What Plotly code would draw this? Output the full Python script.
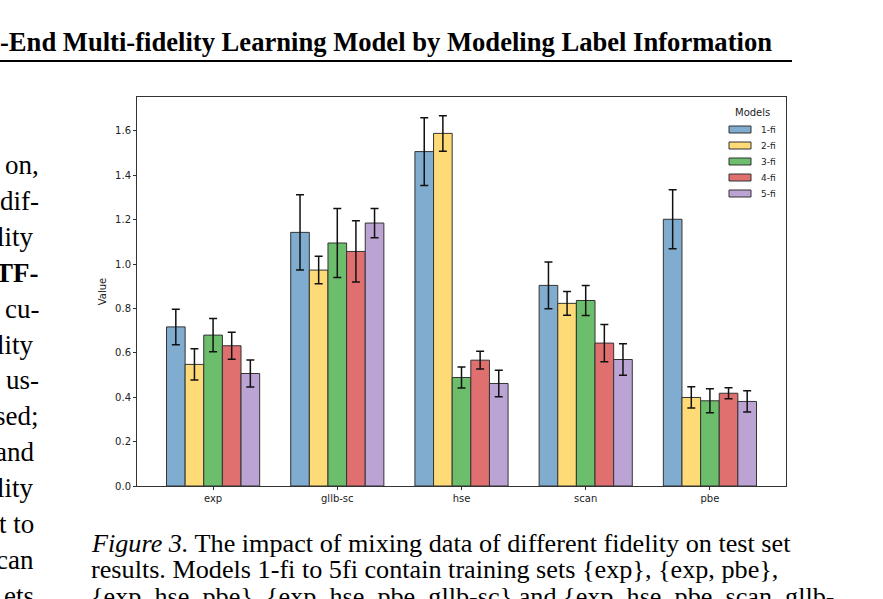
import plotly.graph_objects as go

# ---- data ----
categories = ["exp", "gllb-sc", "hse", "scan", "pbe"]
models = ["1-fi", "2-fi", "3-fi", "4-fi", "5-fi"]
values = {
    "1-fi": [0.717, 1.143, 1.507, 0.904, 1.202],
    "2-fi": [0.548, 0.973, 1.589, 0.823, 0.399],
    "3-fi": [0.680, 1.095, 0.489, 0.836, 0.384],
    "4-fi": [0.632, 1.057, 0.567, 0.644, 0.418],
    "5-fi": [0.507, 1.185, 0.462, 0.570, 0.381],
}
errors = {
    "1-fi": [0.080, 0.170, 0.153, 0.105, 0.133],
    "2-fi": [0.070, 0.062, 0.080, 0.053, 0.048],
    "3-fi": [0.075, 0.155, 0.047, 0.068, 0.054],
    "4-fi": [0.061, 0.138, 0.040, 0.084, 0.025],
    "5-fi": [0.061, 0.066, 0.060, 0.071, 0.048],
}
y_ticks = [0.0, 0.2, 0.4, 0.6, 0.8, 1.0, 1.2, 1.4, 1.6]
y_ticktext = ["0.0", "0.2", "0.4", "0.6", "0.8", "1.0", "1.2", "1.4", "1.6"]

# surrounding page text
header_text = "-End Multi-fidelity Learning Model by Modeling Label Information"
left_column = ["on,", "dif-", "lity", "<b>TF-</b>", "cu-", "lity", "us-", "sed;",
               "and", "lity", "t to", "can", "ets"]
caption_lines = [
    "<i>Figure 3.</i> The impact of mixing data of different fidelity on test set",
    "results. Models 1-fi to 5fi contain training sets {exp}, {exp, pbe},",
    "{exp, hse, pbe}, {exp, hse, pbe, gllb-sc} and {exp, hse, pbe, scan, gllb-",
]

colors = ["rgb(127,172,207)", "rgb(254,219,118)", "rgb(108,190,108)",
          "rgb(224,112,112)", "rgb(187,164,211)"]

# ---- layout geometry (pixels) ----
W, H = 883, 599
L, R, T, B = 137, 786, 97, 486
pw, ph = R - L, B - T


def px(x):
    return (x - L) / pw


def py(y):
    return (B - y) / ph


fig = go.Figure()
for m, c in zip(models, colors):
    fig.add_trace(go.Bar(
        x=categories, y=values[m], name=m,
        marker=dict(color=c, line=dict(color="#333333", width=1)),
        error_y=dict(type="data", array=errors[m], visible=True,
                     color="#111111", thickness=1.5, width=4),
        showlegend=False,
    ))

fig.update_layout(
    width=W, height=H,
    margin=dict(l=L, r=W - R, t=T, b=H - B, pad=0),
    paper_bgcolor="white", plot_bgcolor="white",
    barmode="group", bargap=0.25, bargroupgap=0,
    font=dict(family="DejaVu Sans", size=10, color="#222222"),
    xaxis=dict(range=[-0.6125, 4.6125], showline=True, mirror=True,
               linecolor="#333333", linewidth=1, ticks="outside", ticklen=3,
               tickcolor="#333333", showgrid=False, zeroline=False,
               tickfont=dict(size=10)),
    yaxis=dict(range=[0, 1.753], showline=True, mirror=True,
               linecolor="#333333", linewidth=1, ticks="outside", ticklen=3,
               tickcolor="#333333", showgrid=False, zeroline=False,
               tickvals=y_ticks, ticktext=y_ticktext, tickfont=dict(size=10),
               title=dict(text="Value", font=dict(size=10), standoff=6)),
)

# manual legend (matplotlib style, no frame)
fig.add_annotation(x=px(752), y=py(112), xref="paper", yref="paper",
                   text="Models", showarrow=False, xanchor="center",
                   yanchor="middle", font=dict(size=10, color="#222222"))
for i, (m, c) in enumerate(zip(models, colors)):
    yc = 129.5 + 16 * i
    fig.add_shape(type="rect", xref="paper", yref="paper",
                  x0=px(729), x1=px(751), y0=py(yc + 3.5), y1=py(yc - 3.5),
                  fillcolor=c, line=dict(color="#333333", width=1))
    fig.add_annotation(x=px(759), y=py(yc), xref="paper", yref="paper",
                       text=m, showarrow=False, xanchor="left",
                       yanchor="middle", font=dict(size=9, color="#222222"))

# page header
fig.add_annotation(x=px(-2), y=py(42), xref="paper", yref="paper",
                   text="<b>" + header_text + "</b>", showarrow=False,
                   xanchor="left", yanchor="middle",
                   font=dict(family="Liberation Serif", size=26.6, color="black"))
fig.add_shape(type="line", xref="paper", yref="paper",
              x0=px(0), x1=px(792), y0=py(61), y1=py(61),
              line=dict(color="black", width=2))

# left column text fragments (justified column, punctuation protrudes)
for i, t in enumerate(left_column):
    right = 41 if t.replace("</b>", "")[-1:] in ",-;" else 36
    fig.add_annotation(x=px(right), y=py(165 + 35.9 * i), xref="paper",
                       yref="paper", text=t, showarrow=False,
                       xanchor="right", yanchor="middle",
                       font=dict(family="Liberation Serif", size=27,
                                 color="black"))

# caption
for i, t in enumerate(caption_lines):
    fig.add_annotation(x=px(89), y=py(543 + 26.7 * i), xref="paper",
                       yref="paper", text=t, showarrow=False,
                       xanchor="left", yanchor="middle",
                       font=dict(family="Liberation Serif", size=26.2,
                                 color="black"))

fig.write_html("out.html", config={"displayModeBar": False},
               post_script="document.body.style.margin='0px';")
